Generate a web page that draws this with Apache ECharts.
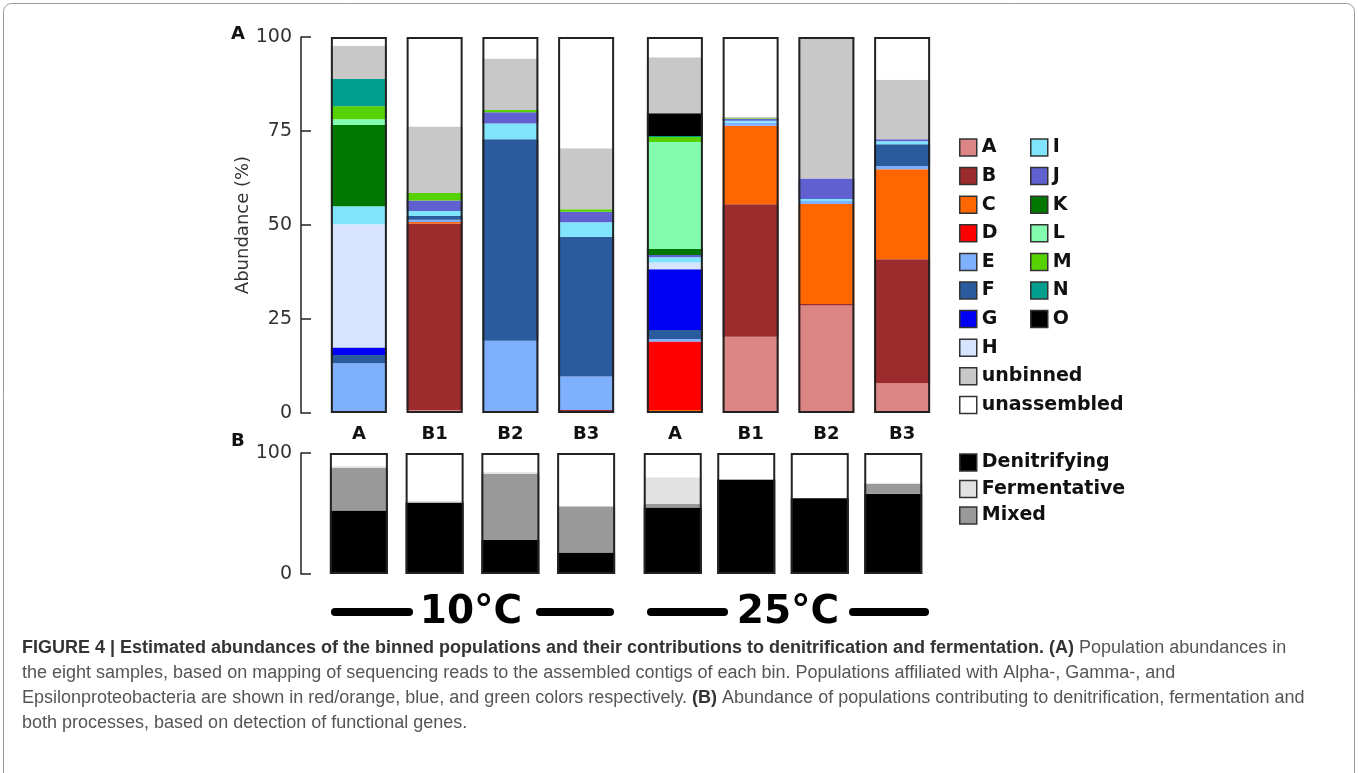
<!DOCTYPE html>
<html>
<head>
<meta charset="utf-8">
<script src="https://cdn.jsdelivr.net/npm/echarts@6/dist/echarts.min.js"></script>
<style>
html,body{margin:0;padding:0;background:#fff;}
#chart{width:1358px;height:773px;}
</style>
</head>
<body>
<div id="chart"></div>
<script>
// Sample order: 10°C A, B1, B2, B3, 25°C A, B1, B2, B3
const sampleLabels = ['A', 'B1', 'B2', 'B3'];
const temperatures = ['10°C', '25°C'];
const yTicksA = [0, 25, 50, 75, 100];
const yTicksB = [0, 100];

// Panel A: population abundances (%)
const popA = [0, 0.8, 0, 0, 0, 20.3, 28.6, 7.9];
const popB = [0, 49.6, 0, 0.8, 0, 35.2, 0.4, 33.0];
const popC = [0, 0.4, 0, 0, 0.8, 20.9, 26.6, 23.9];
const popD = [0, 0, 0.4, 0, 18.2, 0, 0, 0];
const popE = [13.2, 0.6, 18.8, 8.9, 0.7, 0.8, 0.8, 0.9];
const popF = [2.2, 1.0, 53.6, 37.2, 2.4, 0, 0, 5.8];
const popG = [2.0, 0, 0, 0, 16.1, 0, 0, 0];
const popH = [32.8, 0, 0, 0, 1.8, 0, 0, 0];
const popI = [4.8, 1.3, 4.2, 3.8, 1.4, 0.5, 0.5, 0.8];
const popJ = [0, 2.8, 3.0, 2.8, 0.6, 0.5, 5.5, 0.5];
const popK = [21.6, 0, 0, 0, 1.6, 0, 0, 0];
const popL = [1.5, 0, 0, 0, 28.5, 0, 0, 0];
const popM = [3.5, 2.0, 0.6, 0.7, 1.3, 0.2, 0, 0];
const popN = [7.2, 0, 0, 0, 0.3, 0, 0, 0];
const popO = [0, 0, 0, 0, 6.0, 0, 0, 0];
const unbinned = [8.9, 17.7, 13.7, 16.2, 14.9, 0.3, 37.6, 15.8];
const unassembled = [2.3, 23.8, 5.7, 29.6, 5.4, 21.3, 0, 11.4];

// Panel B: functional contributions (%)
const denitrifying = [52.5, 59.1, 28.2, 17.7, 54.9, 78.0, 62.7, 66.3];
const mixed = [35.1, 0, 54.4, 38.1, 3.1, 0, 0, 8.3];
const fermentative = [1.5, 1.5, 1.5, 0, 21.8, 0.5, 0, 0];

// bar frame (each bar totals 100 %)
const frameTotal = [100, 100, 100, 100];

const popSeries = [
  ['A', popA, '#dc8585'], ['B', popB, '#9c2b2d'], ['C', popC, '#ff6600'],
  ['D', popD, '#ff0000'], ['E', popE, '#7eb0fd'], ['F', popF, '#2a5b9c'],
  ['G', popG, '#0000f5'], ['H', popH, '#d6e4ff'], ['I', popI, '#80e4fd'],
  ['J', popJ, '#6060d0'], ['K', popK, '#007800'], ['L', popL, '#84fcb0'],
  ['M', popM, '#55d200'], ['N', popN, '#009e8c'], ['O', popO, '#000000'],
  ['unbinned', unbinned, '#c8c8c8'], ['unassembled', unassembled, '#ffffff']
];
const funcSeries = [
  ['Denitrifying', denitrifying, '#000000'],
  ['Mixed', mixed, '#999999'],
  ['Fermentative', fermentative, '#e2e2e2']
];

const FONT = 'DejaVu Sans';
const BW = 56;

const grids = [
  {left: 321, top: 37, width: 303, height: 376},
  {left: 637, top: 37, width: 303, height: 376},
  {left: 321, top: 453, width: 303, height: 121},
  {left: 636, top: 453, width: 294, height: 121}
];

const xAxes = grids.map((g, i) => ({
  type: 'category', gridIndex: i, data: sampleLabels,
  axisLine: {show: false}, axisTick: {show: false},
  axisLabel: {show: i < 2, fontFamily: FONT, fontWeight: 'bold', fontSize: 18, color: '#111', margin: 12}
}));

function yAxis(i, ticks) {
  const show = (i === 0 || i === 2);
  return {
    type: 'value', gridIndex: i, min: ticks[0], max: ticks[ticks.length - 1],
    interval: ticks[1] - ticks[0], show: show, offset: 20,
    name: i === 0 ? 'Abundance (%)' : '', nameLocation: 'middle', nameGap: 48,
    nameTextStyle: {fontFamily: FONT, fontSize: 18, color: '#333'},
    axisLine: {show: true, lineStyle: {color: '#222', width: 1.5}},
    axisTick: {show: true, inside: true, length: 10, lineStyle: {color: '#222', width: 1.5}},
    axisLabel: {fontFamily: FONT, fontSize: 19, color: '#333', margin: 9},
    splitLine: {show: false}
  };
}
const yAxes = [yAxis(0, yTicksA), yAxis(1, yTicksA), yAxis(2, yTicksB), yAxis(3, yTicksB)];

const series = [];
for (let g = 0; g < 2; g++) {
  popSeries.forEach(([name, vals, color]) => {
    series.push({
      type: 'bar', name: name, xAxisIndex: g, yAxisIndex: g, stack: 'pop' + g,
      data: vals.slice(4 * g, 4 * g + 4), barWidth: BW, barGap: '-100%',
      itemStyle: {color: color}, z: 2
    });
  });
  series.push({
    type: 'bar', name: 'frameA' + g, xAxisIndex: g, yAxisIndex: g,
    data: frameTotal, barWidth: BW, barGap: '-100%', silent: true,
    itemStyle: {color: 'rgba(0,0,0,0)', borderColor: '#222', borderWidth: 2}, z: 5
  });
  funcSeries.forEach(([name, vals, color]) => {
    series.push({
      type: 'bar', name: name, xAxisIndex: 2 + g, yAxisIndex: 2 + g, stack: 'fn' + g,
      data: vals.slice(4 * g, 4 * g + 4), barWidth: BW + 2, barGap: '-100%',
      itemStyle: {color: color}, z: 2
    });
  });
  series.push({
    type: 'bar', name: 'frameB' + g, xAxisIndex: 2 + g, yAxisIndex: 2 + g,
    data: frameTotal, barWidth: BW + 2, barGap: '-100%', silent: true,
    itemStyle: {color: 'rgba(0,0,0,0)', borderColor: '#222', borderWidth: 2}, z: 5
  });
}

const legendBase = {
  orient: 'vertical', icon: 'rect', itemWidth: 17, itemHeight: 17, itemGap: 9.6,
  itemTextGap: 11, selectedMode: false, padding: 0,
  itemStyle: {borderColor: '#333', borderWidth: 1.5},
  textStyle: {fontFamily: FONT, fontWeight: 'bold', fontSize: 19, color: '#111', lineHeight: 17}
};

const CAPFONT = '"Liberation Sans", Arial, sans-serif';
const captionStyle = {fontFamily: CAPFONT, fontSize: 18, fill: '#555'};
const captionRich = {
  b: {fontFamily: CAPFONT, fontSize: 18, fontWeight: 'bold', fill: '#333'},
  r: {fontFamily: CAPFONT, fontSize: 18, fill: '#555'}
};
const captionLines = [
  '{b|FIGURE 4 | Estimated abundances of the binned populations and their contributions to denitrification and fermentation. (A)}{r| Population abundances in}',
  '{r|the eight samples, based on mapping of sequencing reads to the assembled contigs of each bin. Populations affiliated with Alpha-, Gamma-, and}',
  '{r|Epsilonproteobacteria are shown in red/orange, blue, and green colors respectively. }{b|(B)}{r| Abundance of populations contributing to denitrification, fermentation and}',
  '{r|both processes, based on detection of functional genes.}'
];

const graphics = [
  {type: 'rect', shape: {x: 3.5, y: 3.5, width: 1351, height: 820, r: 8}, style: {fill: 'none', stroke: '#9a9a9a', lineWidth: 1}, silent: true},
  {type: 'text', left: 231, top: 25, style: {text: 'A', fontFamily: FONT, fontWeight: 'bold', fontSize: 18, fill: '#111'}},
  {type: 'text', left: 231, top: 432, style: {text: 'B', fontFamily: FONT, fontWeight: 'bold', fontSize: 18, fill: '#111'}},
  // temperature group markers
  {type: 'line', shape: {x1: 335, y1: 612, x2: 409, y2: 612}, style: {stroke: '#000', lineWidth: 8, lineCap: 'round'}},
  {type: 'line', shape: {x1: 540, y1: 612, x2: 610, y2: 612}, style: {stroke: '#000', lineWidth: 8, lineCap: 'round'}},
  {type: 'line', shape: {x1: 651, y1: 612, x2: 724, y2: 612}, style: {stroke: '#000', lineWidth: 8, lineCap: 'round'}},
  {type: 'line', shape: {x1: 853, y1: 612, x2: 925, y2: 612}, style: {stroke: '#000', lineWidth: 8, lineCap: 'round'}},
  {type: 'text', x: 471, y: 613, style: {text: temperatures[0], fontFamily: FONT, fontWeight: 'bold', fontSize: 39, fill: '#000', align: 'center', verticalAlign: 'middle'}},
  {type: 'text', x: 788, y: 613, style: {text: temperatures[1], fontFamily: FONT, fontWeight: 'bold', fontSize: 39, fill: '#000', align: 'center', verticalAlign: 'middle'}}
];
captionLines.forEach((t, i) => {
  graphics.push({type: 'text', x: 22, y: 648 + i * 25, style: Object.assign({text: t, rich: captionRich, verticalAlign: 'middle'}, captionStyle)});
});

const option = {
  animation: false,
  backgroundColor: '#fff',
  grid: grids,
  xAxis: xAxes,
  yAxis: yAxes,
  legend: [
    Object.assign({}, legendBase, {left: 959, top: 138, data: ['A', 'B', 'C', 'D', 'E', 'F', 'G', 'H', 'unbinned', 'unassembled']}),
    Object.assign({}, legendBase, {left: 1030, top: 138, data: ['I', 'J', 'K', 'L', 'M', 'N', 'O']}),
    Object.assign({}, legendBase, {left: 959, top: 453, itemGap: 7.5, data: ['Denitrifying', 'Fermentative', 'Mixed']})
  ],
  series: series,
  graphic: graphics
};

const chart = echarts.init(document.getElementById('chart'), null, {renderer: 'canvas'});
chart.setOption(option);
</script>
</body>
</html>
